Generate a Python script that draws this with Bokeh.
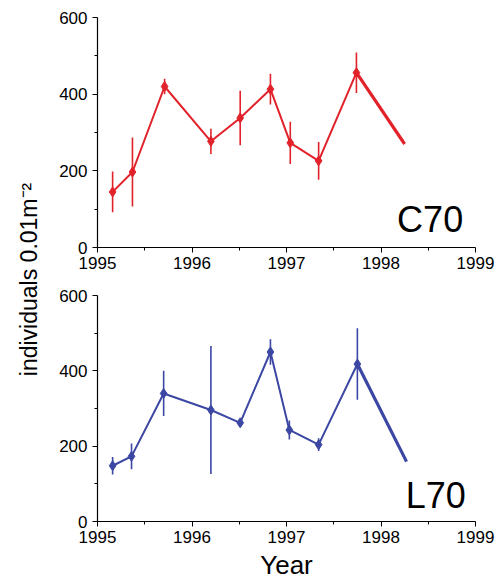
import math
from bokeh.plotting import figure
from bokeh.layouts import row, column
from bokeh.models import Label, FixedTicker, ColumnDataSource
from bokeh.embed import file_html
from bokeh.resources import INLINE

# ---- data ----
c70_year = [1995.16, 1995.37, 1995.71, 1996.20, 1996.51, 1996.83, 1997.04, 1997.34, 1997.74]
c70_val = [145, 197, 420, 277, 338, 413, 273, 226, 456]
c70_err = [53, 90, 20, 33, 71, 40, 55, 49, 53]
c70_last_year = 1998.25
c70_last_val = 270

l70_year = [1995.16, 1995.36, 1995.70, 1996.20, 1996.51, 1996.83, 1997.03, 1997.34, 1997.75]
l70_val = [148, 173, 340, 296, 262, 450, 243, 204, 418]
l70_err = [23, 34, 60, 170, 8, 34, 25, 17, 95]
l70_last_year = 1998.27
l70_last_val = 159

x_ticks = [1995, 1996, 1997, 1998, 1999]
y_ticks = [0, 200, 400, 600]

RED = "#e2222a"
BLUE = "#3b47a3"
FONT = "Liberation Sans"


def panel(years, vals, errs, last_x, last_y, color, name, name_x, name_y,
          height, top, bottom, xlabel=None):
    p = figure(width=453, height=height, x_range=(1995, 1999), y_range=(0, 600),
               output_backend="svg", toolbar_location=None,
               min_border_left=53, min_border_right=22,
               min_border_top=top, min_border_bottom=bottom)
    p.outline_line_color = None
    p.grid.grid_line_color = None
    p.background_fill_color = "white"
    p.border_fill_color = "white"
    for ax in (p.xaxis[0], p.yaxis[0]):
        ax.axis_line_color = "black"
        ax.axis_line_width = 1.2
        ax.major_tick_line_color = "black"
        ax.minor_tick_line_color = "black"
        ax.major_tick_out = 5
        ax.major_tick_in = 0
        ax.minor_tick_out = 3
        ax.minor_tick_in = 0
        ax.major_label_text_font = FONT
        ax.major_label_text_font_size = "17px"
        ax.major_label_text_color = "black"
    p.xaxis.ticker = FixedTicker(ticks=x_ticks, minor_ticks=[1995.5, 1996.5, 1997.5, 1998.5])
    p.yaxis.ticker = FixedTicker(ticks=y_ticks, minor_ticks=[100, 300, 500])
    p.xaxis.major_label_standoff = 4
    p.yaxis.major_label_standoff = 5
    if xlabel:
        p.xaxis.axis_label = xlabel
        p.xaxis.axis_label_text_font = FONT
        p.xaxis.axis_label_text_font_size = "26px"
        p.xaxis.axis_label_text_font_style = "normal"
        p.xaxis.axis_label_text_color = "black"
        p.xaxis.axis_label_standoff = 4

    src = ColumnDataSource(dict(x=years, y=vals,
                                lo=[v - e for v, e in zip(vals, errs)],
                                hi=[v + e for v, e in zip(vals, errs)]))
    p.segment(x0="x", y0="lo", x1="x", y1="hi", source=src, line_color=color, line_width=1.6)
    p.line(x="x", y="y", source=src, line_color=color, line_width=2.0)
    p.line(x=[years[-1], last_x], y=[vals[-1], last_y], line_color=color, line_width=3.2)
    p.scatter(x="x", y="y", source=src, marker="diamond", size=10,
              fill_color=color, line_color=color)

    p.add_layout(Label(x=name_x, y=name_y, text=name, text_font=FONT, text_font_size="36px",
                       text_color="black", text_align="center", text_baseline="middle"))
    return p


top_p = panel(c70_year, c70_val, c70_err, c70_last_year, c70_last_val, RED, "C70",
              1998.52, 72, height=280, top=17, bottom=33)
bot_p = panel(l70_year, l70_val, l70_err, l70_last_year, l70_last_val, BLUE, "L70",
              1998.58, 68, height=304, top=15, bottom=63, xlabel="Year")

lab = figure(width=44, height=584, x_range=(0, 1), y_range=(0, 1),
             output_backend="svg", toolbar_location=None,
             min_border=0)
lab.axis.visible = False
lab.grid.grid_line_color = None
lab.outline_line_color = None
lab.add_layout(Label(x=28, y=584 - 279, x_units="screen", y_units="screen",
                     text="individuals 0.01m⁻²", angle=math.pi / 2,
                     text_font=FONT, text_font_size="23px", text_color="black",
                     text_align="center", text_baseline="middle"))

layout = row(lab, column(top_p, bot_p))
open("out.html", "w").write(file_html(layout, INLINE))
